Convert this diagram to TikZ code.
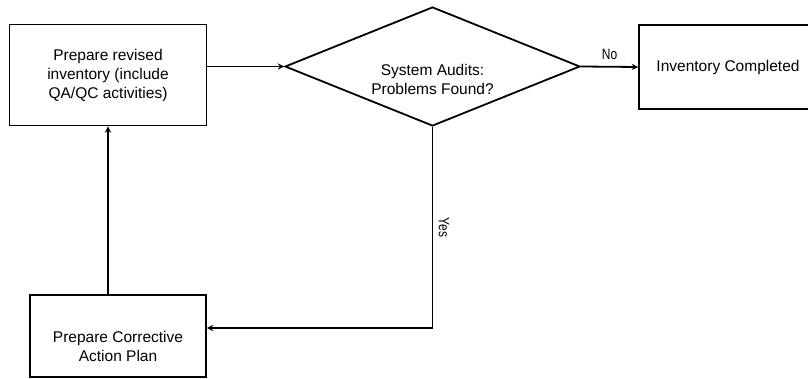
\documentclass[tikz,border=0pt]{standalone}
\usepackage{fontspec}
\setmainfont{Liberation Sans}
\newfontfamily\narrowfont[FakeStretch=0.8]{Liberation Sans}
\usetikzlibrary{shapes.geometric}
\begin{document}
\begin{tikzpicture}[x=1pt, y=-1pt, >=stealth, line width=1.8pt,
    txt/.style={align=center, font=\fontsize{15.5}{19}\selectfont},
    box/.style={txt, draw, rectangle},
    decision/.style={draw, diamond, aspect=2.5, minimum width=295pt, minimum height=119pt},
    lab/.style={font=\narrowfont\fontsize{15}{18}\selectfont}]
    \useasboundingbox (0,0) rectangle (808,379);

    \node[box, minimum width=197pt, minimum height=101pt] (revise) at (108,75)
        {Prepare revised\\inventory (include\\QA/QC activities)};
    \node[decision, label={[txt, yshift=-13pt]center:System Audits:\\Problems Found?}] (audit) at (432.5,66.5) {};
    \node[box, minimum width=178pt, minimum height=84pt] (done) at (728,67) {Inventory Completed};
    \node[box, minimum width=176pt, minimum height=82pt,
        label={[txt, yshift=-10pt]center:Prepare Corrective\\Action Plan}] (plan) at (118,336) {};

    \draw[->] (revise.east |- audit.west) -- (audit.west);
    \draw[->] (audit.east) -- node[lab, above, yshift=3pt] {No} (done.west);
    \draw[->] (audit.south) |- node[lab, pos=0.25, rotate=-90, anchor=south, yshift=2pt] {Yes} ([yshift=8pt]plan.east);
    \draw[->] (plan.north -| revise.south) -- (revise.south);
\end{tikzpicture}
\end{document}
